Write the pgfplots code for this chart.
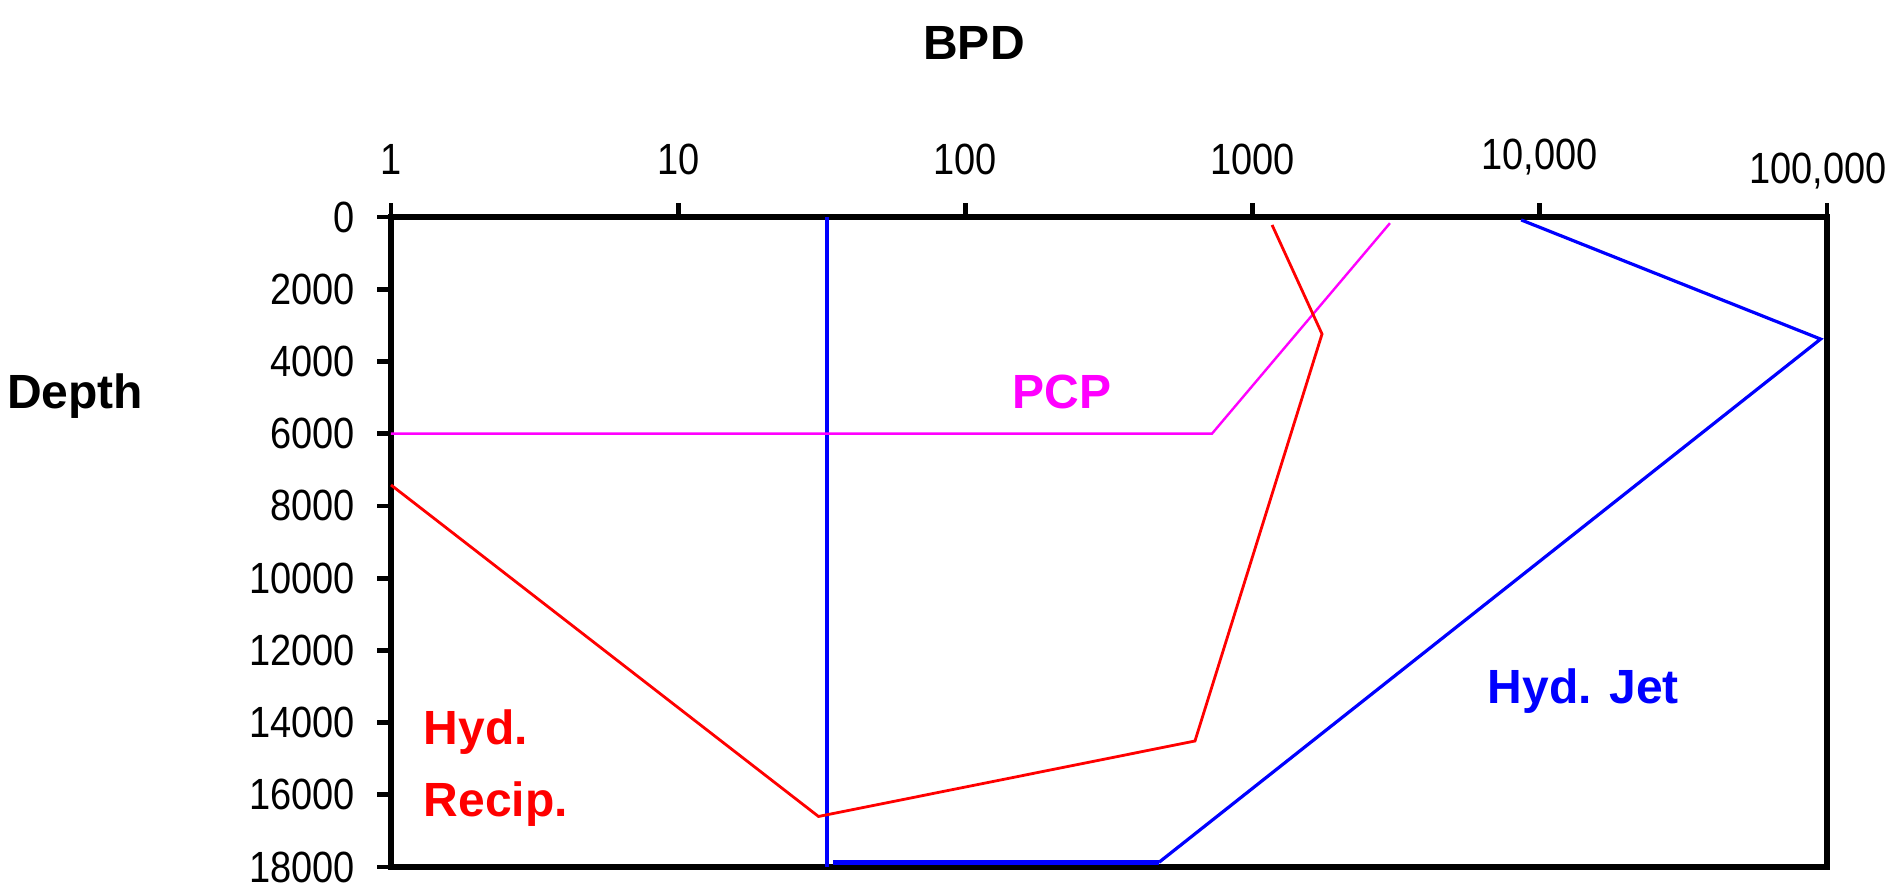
\documentclass[border=0pt]{standalone}
\usepackage{graphicx}
\usepackage{pgfplots}
\pgfplotsset{compat=1.18}
\usepackage{fontspec}
\setmainfont{Liberation Sans}
\definecolor{pcp}{RGB}{255,0,255}
\definecolor{jet}{RGB}{0,0,255}
\definecolor{rec}{RGB}{255,0,0}
\newcommand{\tl}[1]{\scalebox{1}[1.15]{#1}}
\begin{document}
\begin{tikzpicture}
\path[use as bounding box] (-97.75pt,-6.5pt) rectangle (375.5pt,216.75pt);
\begin{axis}[
  scale only axis,
  width=359pt, height=162.5pt,
  xmode=log, xmin=1, xmax=100000,
  ymin=0, ymax=18000, y dir=reverse,
  xtick={1,10,100,1000,10000,100000},
  xticklabels={\tl{1},\tl{10},\tl{100},\tl{1000},{\tl{10,000}},{\raisebox{-3.5pt}[\height][\depth]{\tl{100,000}\hspace*{4.5pt}}}},
  ytick={0,2000,4000,6000,8000,10000,12000,14000,16000,18000},
  yticklabels={\tl{0},\tl{2000},\tl{4000},\tl{6000},\tl{8000},\tl{10000},\tl{12000},\tl{14000},\tl{16000},\tl{18000}},
  scaled y ticks=false,
  xminorticks=false, yminorticks=false,
  xtick pos=right, xticklabel pos=right,
  ytick pos=left,
  tick align=outside,
  major tick length=3.5pt,
  tick style={line width=1.2pt, black},
  axis line style={line width=1.3pt},
  tick label style={font=\fontsize{9.5}{11}\selectfont},
  xticklabel shift=3.5pt,
  yticklabel shift=2pt,
  clip=false,
]
% Blue vertical
\addplot[jet, line width=0.9pt] coordinates {(33,0) (33,18000)};
% Hyd. Jet
\addplot[jet, line width=0.8pt] coordinates {(8610,80) (95000,3380) (472,17870)};
\addplot[jet, line width=1.1pt] coordinates {(472,17870) (34.6,17870)};
% PCP
\addplot[pcp, line width=0.6pt] coordinates {(3008,170) (722,6000) (1,6000)};
% Hyd. Recip.
\addplot[rec, line width=0.7pt] coordinates {(1169,220) (1745,3240) (630,14510) (30.8,16600) (1,7420)};
% labels
\node[pcp, font=\bfseries\fontsize{12}{14}\selectfont, anchor=center, inner sep=0pt] at (axis cs:217,4846) {PCP};
\node[jet, font=\bfseries\fontsize{12}{14}\selectfont, anchor=base west, inner sep=0pt] at (axis cs:6550,13460) {Hyd. Jet};
\node[rec, font=\bfseries\fontsize{12}{14}\selectfont, anchor=base west, inner sep=0pt] at (axis cs:1.292,14620) {Hyd.};
\node[rec, font=\bfseries\fontsize{12}{14}\selectfont, anchor=base west, inner sep=0pt] at (axis cs:1.292,16614) {Recip.};
\end{axis}
\node[font=\bfseries\fontsize{12}{14}\selectfont, anchor=center, inner sep=0pt] at (145.75pt,206pt) {BPD};
\node[font=\bfseries\fontsize{12}{14}\selectfont, anchor=center, inner sep=0pt] at (-79pt,117.75pt) {Depth};
\end{tikzpicture}
\end{document}
